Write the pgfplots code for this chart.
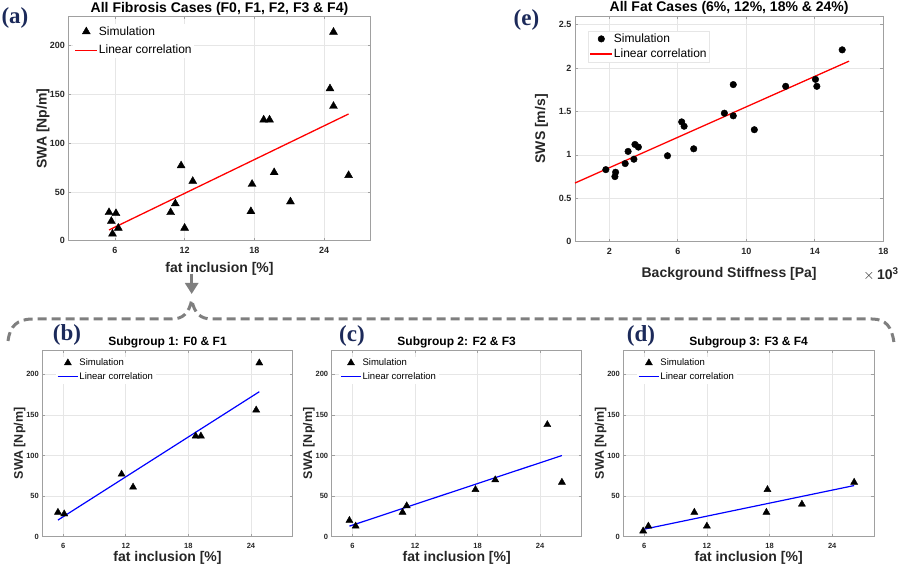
\documentclass[border=0pt]{standalone}
\usepackage{fontspec}
\setmainfont{Liberation Sans}
\newfontfamily\panelfont{Liberation Serif}
\usepackage{pgfplots}
\pgfplotsset{compat=1.18}
\usetikzlibrary{arrows.meta}
\definecolor{navy}{HTML}{1C2A5A}
\definecolor{gridc}{HTML}{E6E6E6}
\definecolor{framec}{HTML}{A0A0A0}
\definecolor{labc}{HTML}{262626}
\definecolor{bracec}{HTML}{7F7F7F}

\pgfplotsset{
  mstyle/.style={
    scale only axis, anchor=south west, clip=false,
    axis line style={framec, line width=0.7pt},
    grid=major, grid style={gridc, line width=0.6pt},
    tick style={framec, line width=0.6pt},
    tick align=inside, major tick length=3pt,
    /pgf/number format/assume math mode=true,
    legend cell align=left,
    legend image code/.code={\draw[mark repeat=2,mark phase=2,##1] plot coordinates {(0pt,0pt) (11pt,0pt) (22pt,0pt)};},
  },
  bigax/.style={mstyle,
    tick label style={font=\fontsize{9}{10}\selectfont\bfseries, text=labc},
    xticklabel style={yshift=-3pt},
  },
  smallax/.style={mstyle,
    width=250.4pt, height=186.7pt,
    xmin=4, xmax=28, ymin=0, ymax=230,
    xtick={6,12,18,24}, ytick={0,50,100,150,200},
    tick label style={font=\fontsize{7.5}{8.5}\selectfont\bfseries, text=labc},
    xticklabel style={yshift=-3pt},
    legend image code/.code={\draw[mark repeat=2,mark phase=2,##1] plot coordinates {(0pt,0pt) (10pt,0pt) (20pt,0pt)};},
    legend style={anchor=north west, draw=white, fill=white, font=\fontsize{9.5}{10}\selectfont, inner sep=1pt, row sep=3.5pt, nodes={inner sep=1pt}},
  },
}

\pgfplotstableread{
x y
5.5 29
6.1 28
5.7 20
5.8 7
6.3 13
10.8 29
11.2 38
11.7 77
12.0 13
12.7 61
17.7 30
17.8 58
18.8 124
19.3 124
19.7 70
21.1 40
24.5 156
24.8 214
24.8 138
26.1 67
}\dataA

\pgfplotstableread{
x y
5.5 30
6.1 28
11.6 77
12.7 61
18.7 124
19.2 124
24.5 156
24.8 214
}\dataB

\pgfplotstableread{
x y
5.7 20
6.3 13
10.8 30
11.2 38
17.8 58
19.7 70
24.7 138
26.1 67
}\dataC

\pgfplotstableread{
x y
5.9 7
6.4 13
10.8 30
12.0 13
17.7 30
17.8 58
21.1 40
26.1 67
}\dataD

\pgfplotstableread{
x y
1.80 0.83
2.37 0.80
2.33 0.75
2.93 0.90
3.10 1.04
3.44 0.95
3.50 1.12
3.70 1.09
5.40 0.99
6.23 1.38
6.37 1.33
6.93 1.07
8.72 1.48
9.24 1.81
9.24 1.45
10.47 1.29
12.30 1.79
14.04 1.87
14.12 1.79
15.60 2.21
}\dataE

\begin{document}
\begin{tikzpicture}
% ---------------- (a)
\begin{axis}[bigax, at={(68.3pt,324.3pt)}, width=302.4pt, height=224.2pt,
  xmin=2, xmax=28, ymin=0, ymax=230, xtick={6,12,18,24}, ytick={0,50,100,150,200},
  legend style={at={(axis description cs:0.017,0.965)}, anchor=north west, draw=white, fill=white,
    font=\fontsize{12}{13}\selectfont, inner sep=1pt, row sep=6.5pt, nodes={inner sep=1pt}}]
\addplot[only marks, mark=triangle*, mark size=4.6pt, black] table[x=x,y=y]{\dataA};
\addlegendentry{Simulation}
\addplot[red, line width=1.3pt,
  legend image code/.code={\draw[red, line width=1.3pt] (0pt,0pt) -- (22pt,0pt);}] coordinates {(5.5,11) (26.1,130)};
\addlegendentry{Linear correlation}
\node[anchor=base, font=\fontsize{14}{16}\selectfont\bfseries, text=black] at ([yshift=4pt]axis description cs:0.5,1) {All Fibrosis Cases (F0, F1, F2, F3 \& F4)};
\node[anchor=base, font=\fontsize{14}{16}\selectfont\bfseries, text=labc] at ([yshift=-32pt]axis description cs:0.5,0) {fat inclusion [\%]};
\node[anchor=base, rotate=90, font=\fontsize{14}{16}\selectfont\bfseries, text=labc] at ([xshift=-21.6pt]axis description cs:0,0.5) {SWA [Np/m]};
\end{axis}
% ---------------- (e)
\begin{axis}[bigax, at={(575pt,323.3pt)}, width=308.3pt, height=225.7pt,
  xmin=0, xmax=18, ymin=0, ymax=2.6, xtick={2,6,10,14,18}, ytick={0,0.5,1,1.5,2,2.5},
  legend style={at={(axis description cs:0.042,0.933)}, anchor=north west, draw=gridc, fill=white,
    font=\fontsize{12}{13}\selectfont, inner sep=1.5pt, row sep=3pt, nodes={inner sep=1pt}}]
\addplot[only marks, mark=*, mark size=3.3pt, black] table[x=x,y=y]{\dataE};
\addlegendentry{Simulation}
\addplot[red, line width=1.3pt,
  legend image code/.code={\draw[red, line width=1.3pt] (0pt,0pt) -- (22pt,0pt);}] coordinates {(0,0.676) (16,2.08)};
\addlegendentry{Linear correlation}
\node[anchor=base, font=\fontsize{14}{16}\selectfont\bfseries, text=black] at ([yshift=4pt]axis description cs:0.5,1) {All Fat Cases (6\%, 12\%, 18\% \& 24\%)};
\node[anchor=base, font=\fontsize{14}{16}\selectfont\bfseries, text=labc] at ([yshift=-36pt]axis description cs:0.5,0) {Background Stiffness [Pa]};
\node[anchor=base, rotate=90, font=\fontsize{14}{16}\selectfont\bfseries, text=labc] at ([xshift=-30pt]axis description cs:0,0.5) {SWS [m/s]};
\end{axis}
% ---------------- (b)
\begin{axis}[smallax, at={(42.3pt,28.3pt)},
  legend style={at={(axis description cs:0.055,0.965)}}]
\addplot[only marks, mark=triangle*, mark size=4.1pt, black] table[x=x,y=y]{\dataB};
\addlegendentry{Simulation}
\addplot[blue, line width=1.2pt,
  legend image code/.code={\draw[blue, line width=1.2pt] (0pt,0pt) -- (20pt,0pt);}] coordinates {(5.5,20.5) (24.8,178.6)};
\addlegendentry{Linear correlation}
\node[anchor=base, font=\fontsize{12}{14}\selectfont\bfseries, text=black] at ([yshift=4pt]axis description cs:0.5,1) {Subgroup 1: F0 \& F1};
\node[anchor=base, font=\fontsize{14}{16}\selectfont\bfseries, text=labc] at ([yshift=-25pt]axis description cs:0.5,0) {fat inclusion [\%]};
\node[anchor=base, rotate=90, font=\fontsize{12.5}{14}\selectfont\bfseries, text=labc] at ([xshift=-19.5pt]axis description cs:0,0.5) {SWA [Np/m]};
\end{axis}
% ---------------- (c)
\begin{axis}[smallax, at={(331.7pt,28.3pt)}, width=250pt,
  legend style={at={(axis description cs:0.03,0.965)}}]
\addplot[only marks, mark=triangle*, mark size=4.1pt, black] table[x=x,y=y]{\dataC};
\addlegendentry{Simulation}
\addplot[blue, line width=1.2pt,
  legend image code/.code={\draw[blue, line width=1.2pt] (0pt,0pt) -- (20pt,0pt);}] coordinates {(5.7,13) (26.1,100)};
\addlegendentry{Linear correlation}
\node[anchor=base, font=\fontsize{12}{14}\selectfont\bfseries, text=black] at ([yshift=4pt]axis description cs:0.5,1) {Subgroup 2: F2 \& F3};
\node[anchor=base, font=\fontsize{14}{16}\selectfont\bfseries, text=labc] at ([yshift=-25pt]axis description cs:0.5,0) {fat inclusion [\%]};
\node[anchor=base, rotate=90, font=\fontsize{12.5}{14}\selectfont\bfseries, text=labc] at ([xshift=-19.5pt]axis description cs:0,0.5) {SWA [Np/m]};
\end{axis}
% ---------------- (d)
\begin{axis}[smallax, at={(623.3pt,28.3pt)}, width=250.7pt,
  legend style={at={(axis description cs:0.055,0.965)}}]
\addplot[only marks, mark=triangle*, mark size=4.1pt, black] table[x=x,y=y]{\dataD};
\addlegendentry{Simulation}
\addplot[blue, line width=1.2pt,
  legend image code/.code={\draw[blue, line width=1.2pt] (0pt,0pt) -- (20pt,0pt);}] coordinates {(5.9,9) (26.1,63)};
\addlegendentry{Linear correlation}
\node[anchor=base, font=\fontsize{12}{14}\selectfont\bfseries, text=black] at ([yshift=4pt]axis description cs:0.5,1) {Subgroup 3: F3 \& F4};
\node[anchor=base, font=\fontsize{14}{16}\selectfont\bfseries, text=labc] at ([yshift=-25pt]axis description cs:0.5,0) {fat inclusion [\%]};
\node[anchor=base, rotate=90, font=\fontsize{12.5}{14}\selectfont\bfseries, text=labc] at ([xshift=-19.5pt]axis description cs:0,0.5) {SWA [Np/m]};
\end{axis}
% ---------------- decorations
\node[font=\fontsize{14}{16}\selectfont, text=labc] at (881pt,291pt) {$\times$\,\textbf{10\textsuperscript{3}}};
\node[font=\panelfont\fontsize{23}{26}\selectfont\bfseries, text=navy] at (15pt,547pt) {(a)};
\node[font=\panelfont\fontsize{23}{26}\selectfont\bfseries, text=navy] at (526.5pt,545pt) {(e)};
\node[font=\panelfont\fontsize{23}{26}\selectfont\bfseries, text=navy] at (67pt,230pt) {(b)};
\node[font=\panelfont\fontsize{23}{26}\selectfont\bfseries, text=navy] at (352pt,229.5pt) {(c)};
\node[font=\panelfont\fontsize{23}{26}\selectfont\bfseries, text=navy] at (641pt,229.5pt) {(d)};
\draw[bracec, line width=3pt, dash pattern=on 9pt off 5pt]
  (8pt,224pt) .. controls (10pt,239pt) and (17pt,246pt) .. (33pt,246pt) -- (172pt,246pt)
  .. controls (183pt,246pt) and (189pt,252pt) .. (191.7pt,265pt)
  .. controls (194.4pt,252pt) and (200pt,246pt) .. (212pt,246pt) -- (872pt,246pt)
  .. controls (886pt,246pt) and (892pt,238pt) .. (894pt,222pt);
\draw[bracec, line width=3pt, -{Triangle[length=11pt,width=13pt]}] (191.7pt,291pt) -- (191.7pt,271pt);
\pgfresetboundingbox
\useasboundingbox (0pt,0pt) rectangle (900pt,565pt);
\end{tikzpicture}
\end{document}
